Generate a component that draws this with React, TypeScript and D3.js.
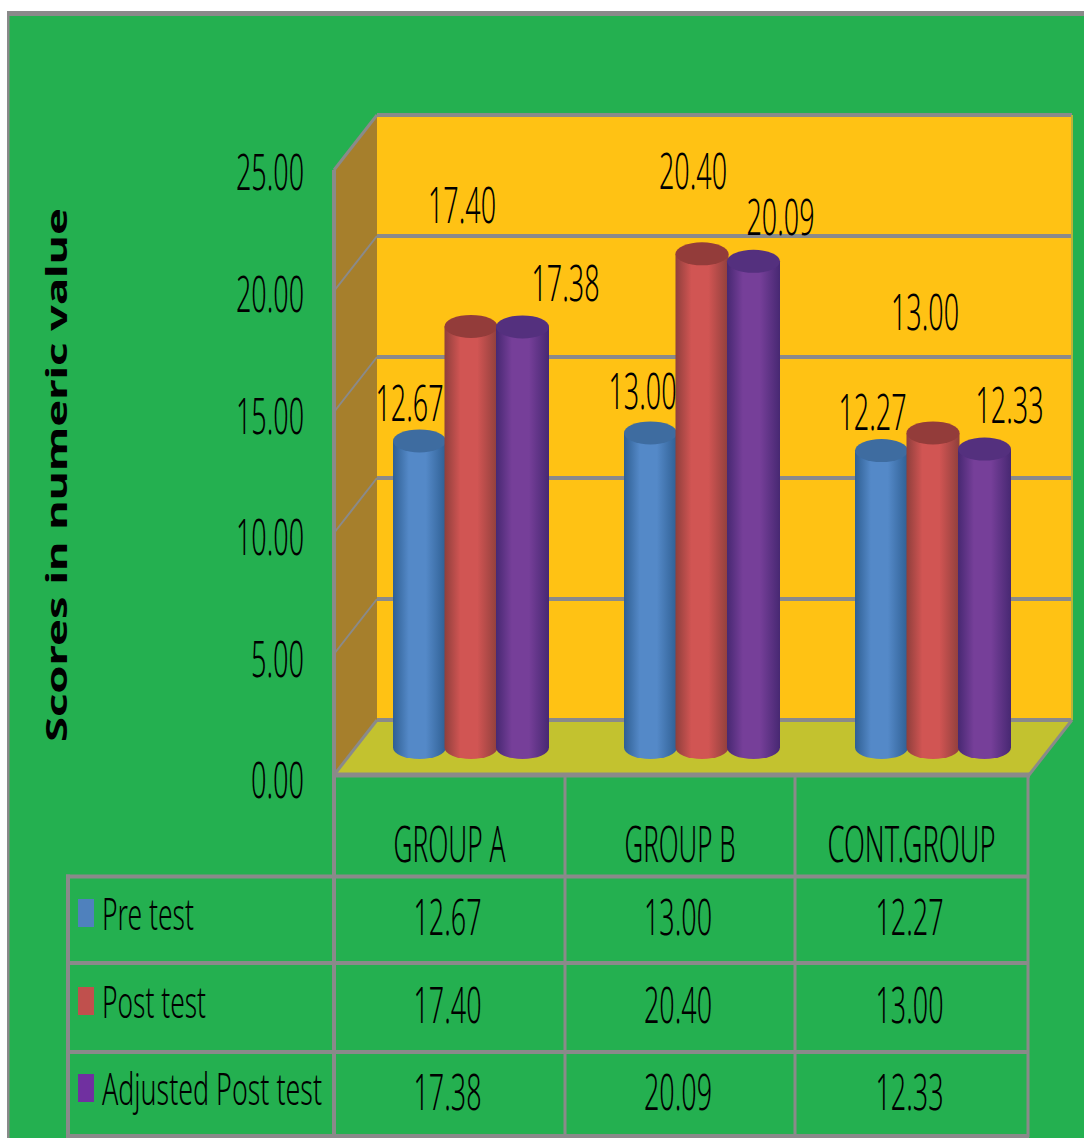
import React from "react";
import * as d3 from "d3";

// Chart values
const groups = ["GROUP A", "GROUP B", "CONT.GROUP"];
const seriesNames = ["Pre test", "Post test", "Adjusted Post test"];
const preTest = [12.67, 13.0, 12.27];
const postTest = [17.4, 20.4, 13.0];
const adjustedPostTest = [17.38, 20.09, 12.33];
const seriesValues = [preTest, postTest, adjustedPostTest];
const yTicks = [0, 5, 10, 15, 20, 25];

// Series colours: flat swatch, cylinder edge, cylinder centre, cylinder cap
const swatchColors = ["#4F81BD", "#C0504D", "#7030A0"];
const edgeColors = ["#2F5F93", "#8F3F3C", "#472872"];
const centerColors = ["#5489C8", "#D15553", "#763F99"];
const capColors = ["#3E6CA0", "#933C3A", "#54307E"];

// Data label placement relative to the top of each cylinder, by series then group
const labelDx = [[-10, -8, -9], [-9, -9, -8], [43, 27, 25]];
const labelDy = [[-37, -41, -38], [-121, -82, -120], [-43, -44, -44]];

// Rendered text widths for the condensed labels
const groupTextWidths = [112, 111, 168];
const seriesTextWidths = [92, 104, 220];
const numberWidth = (s: string) => (s.length === 5 ? 68 : 53);

const W = 1084;
const H = 1138;
const FONT = "'Noto Sans', sans-serif";
const GREEN = "#24B050";
const GRID = "#8A8A8A";

// The 3D box: back wall, and the shift from back wall to front edge
const backLeft = 377;
const backRight = 1072;
const depthX = -43;
const depthY = 55;
const barStep = 51.5;
const barWidth = 53;
const capRy = 11.5;

const y = d3.scaleLinear().domain([0, 25]).range([720, 115]);
const yTickLabel = d3.scaleLinear().domain([0, 25]).range([781, 173]);
const xGroup = d3.scaleBand<string>().domain(groups).range([355.5, 1048.5]);

const tableLeft = 68;
const rowLines = [876.5, 963, 1052, 1136];
const columnLines = [334, 565, 795, 1028];
const rowCenters = [918, 1006, 1093];

const fmt = d3.format(".2f");

function Label(props: {
  x: number;
  cy: number;
  text: string;
  width: number;
  anchor?: "start" | "middle" | "end";
  size?: number;
}) {
  const { x, cy, text, width, anchor = "middle", size = 49 } = props;
  return (
    <text
      x={x}
      y={cy + size * 0.357}
      textAnchor={anchor}
      fontFamily={FONT}
      fontWeight={300}
      fontSize={size}
      fill="#000"
      textLength={width}
      lengthAdjust="spacingAndGlyphs"
    >
      {text}
    </text>
  );
}

export default function App() {
  const barLeft = (g: string, s: number) => {
    const band = xGroup(g)! + xGroup.bandwidth() / 2;
    return band - (barStep * 2 + barWidth) / 2 + s * barStep;
  };
  const cylinderTop = (v: number) => y(v) + depthY / 2;
  const cylinderBase = cylinderTop(0);

  return (
    <svg
      width={W}
      height={H}
      viewBox={`0 0 ${W} ${H}`}
      style={{ position: "absolute", left: 0, top: 0, display: "block", background: "#fff" }}
    >
      <defs>
        {seriesNames.map((_, i) => (
          <linearGradient key={i} id={`cyl-${i}`} x1="0" x2="1" y1="0" y2="0">
            <stop offset="0%" stopColor={edgeColors[i]} />
            <stop offset="30%" stopColor={centerColors[i]} />
            <stop offset="62%" stopColor={centerColors[i]} />
            <stop offset="100%" stopColor={edgeColors[i]} />
          </linearGradient>
        ))}
      </defs>

      {/* Panel */}
      <rect x={8} y={13} width={W - 8} height={H - 13} fill={GREEN} />
      <rect x={7} y={11} width={W - 7} height={5} fill={GRID} />
      <rect x={7} y={11} width={2.5} height={H - 11} fill={GRID} />

      {/* Walls and floor */}
      <rect x={backLeft} y={y(25)} width={backRight - backLeft} height={y(0) - y(25)} fill="#FFC214" />
      <polygon
        points={`${backLeft},${y(25)} ${backLeft},${y(0)} ${backLeft + depthX},${y(0) + depthY} ${backLeft + depthX},${y(25) + depthY}`}
        fill="#A67F2C"
      />
      <polygon
        points={`${backLeft},${y(0)} ${backRight},${y(0)} ${backRight + depthX},${y(0) + depthY} ${backLeft + depthX},${y(0) + depthY}`}
        fill="#C3C22F"
      />

      {/* Gridlines along the back wall and down the side wall */}
      {yTicks.map((t) => (
        <g key={t}>
          <line x1={backLeft} x2={backRight} y1={y(t)} y2={y(t)} stroke={GRID} strokeWidth={4} />
          <line
            x1={backLeft}
            x2={backLeft + depthX}
            y1={y(t)}
            y2={y(t) + depthY}
            stroke={GRID}
            strokeWidth={t === 25 || t === 0 ? 3 : 2}
          />
        </g>
      ))}
      <line x1={backRight} x2={backRight} y1={y(25)} y2={y(0)} stroke="#B9B33A" strokeWidth={2} />
      <line
        x1={backRight}
        x2={backRight + depthX}
        y1={y(0)}
        y2={y(0) + depthY}
        stroke={GRID}
        strokeWidth={3}
      />
      <line x1={334} x2={334} y1={y(25) + depthY} y2={H - 2} stroke={GRID} strokeWidth={4} />
      <line x1={332} x2={1030} y1={y(0) + depthY} y2={y(0) + depthY} stroke={GRID} strokeWidth={5} />

      {/* Cylinders */}
      {groups.map((g, gi) =>
        seriesValues.map((vals, si) => {
          const v = vals[gi];
          const left = barLeft(g, si);
          const rx = barWidth / 2;
          const top = cylinderTop(v);
          return (
            <g key={`${g}-${si}`}>
              <path
                d={`M${left} ${top}V${cylinderBase}A${rx} ${capRy} 0 0 0 ${left + barWidth} ${cylinderBase}V${top}Z`}
                fill={`url(#cyl-${si})`}
              />
              <ellipse cx={left + rx} cy={top} rx={rx} ry={capRy} fill={capColors[si]} />
            </g>
          );
        })
      )}

      {/* Value axis */}
      {yTicks.map((t) => {
        const s = fmt(t);
        return (
          <Label
            key={t}
            x={304}
            cy={yTickLabel(t)}
            text={s}
            width={numberWidth(s)}
            anchor="end"
          />
        );
      })}
      <text
        transform={`translate(67,475) rotate(-90)`}
        textAnchor="middle"
        fontFamily={FONT}
        fontWeight={700}
        fontSize={28}
        fill="#000"
        textLength={534}
        lengthAdjust="spacingAndGlyphs"
      >
        Scores in numeric value
      </text>

      {/* Data labels */}
      {groups.map((g, gi) =>
        seriesValues.map((vals, si) => {
          const s = fmt(vals[gi]);
          return (
            <Label
              key={`${g}-${si}-label`}
              x={barLeft(g, si) + barWidth / 2 + labelDx[si][gi]}
              cy={cylinderTop(vals[gi]) + labelDy[si][gi]}
              text={s}
              width={numberWidth(s)}
            />
          );
        })
      )}

      {/* Data table */}
      {columnLines.slice(1).map((cx) => (
        <line key={cx} x1={cx} x2={cx} y1={y(0) + depthY} y2={1137} stroke={GRID} strokeWidth={3} />
      ))}
      <line x1={tableLeft} x2={tableLeft} y1={rowLines[0] - 2} y2={1138} stroke={GRID} strokeWidth={4} />
      {rowLines.map((ry) => (
        <line key={ry} x1={tableLeft - 2} x2={1029} y1={ry} y2={ry} stroke={GRID} strokeWidth={4} />
      ))}
      {groups.map((g, gi) => (
        <Label
          key={g}
          x={(columnLines[gi] + columnLines[gi + 1]) / 2}
          cy={845}
          text={g}
          width={groupTextWidths[gi]}
        />
      ))}
      {seriesNames.map((name, si) => (
        <g key={name}>
          <rect x={78} y={rowCenters[si] - 19} width={16} height={28} fill={swatchColors[si]} />
          <Label
            x={102}
            cy={rowCenters[si] - 4}
            text={name}
            width={seriesTextWidths[si]}
            anchor="start"
            size={44}
          />
          {groups.map((g, gi) => {
            const s = fmt(seriesValues[si][gi]);
            return (
              <Label
                key={g}
                x={(columnLines[gi] + columnLines[gi + 1]) / 2 - 2}
                cy={rowCenters[si]}
                text={s}
                width={numberWidth(s)}
              />
            );
          })}
        </g>
      ))}
    </svg>
  );
}
